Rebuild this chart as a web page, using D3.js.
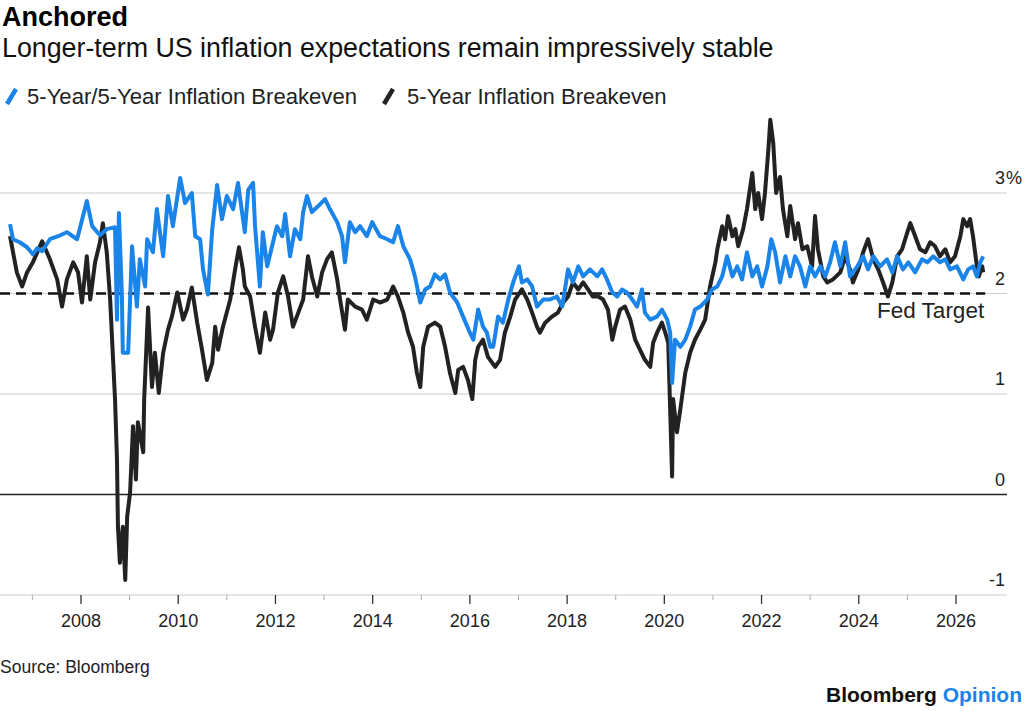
<!DOCTYPE html>
<html><head><meta charset="utf-8">
<script src="https://cdn.jsdelivr.net/npm/d3@7"></script>
<style>
body{margin:0;background:#fff;}
text{font-family:"Liberation Sans",Arial,sans-serif;}
</style></head>
<body><svg id="c" width="1024" height="711"></svg>
<script>
const title = "Anchored";
const subtitle = "Longer-term US inflation expectations remain impressively stable";
const seriesNames = ["5-Year/5-Year Inflation Breakeven", "5-Year Inflation Breakeven"];
const seriesColors = ["#1a84e8", "#222222"];
const yTicks = [-1, 0, 1, 2, 3];
const xTickYears = [2008, 2010, 2012, 2014, 2016, 2018, 2020, 2022, 2024, 2026];
const xMinorYears = [2007, 2009, 2011, 2013, 2015, 2017, 2019, 2021, 2023, 2025];
const fedTarget = 2;

const fiveYFiveYDates = [2006.54,2006.60,2006.74,2006.89,2007.01,2007.10,2007.20,2007.36,2007.53,2007.71,2007.92,2008.12,2008.23,2008.39,2008.53,2008.70,2008.74,2008.78,2008.84,2008.86,2008.97,2009.05,2009.15,2009.21,2009.32,2009.36,2009.48,2009.56,2009.69,2009.79,2009.89,2010.04,2010.14,2010.28,2010.35,2010.45,2010.51,2010.61,2010.70,2010.80,2010.90,2011.00,2011.13,2011.23,2011.37,2011.44,2011.54,2011.58,2011.68,2011.74,2011.83,2011.93,2012.03,2012.14,2012.20,2012.30,2012.40,2012.51,2012.57,2012.65,2012.75,2012.88,2013.02,2013.12,2013.27,2013.37,2013.43,2013.53,2013.64,2013.74,2013.88,2013.99,2014.15,2014.30,2014.42,2014.52,2014.63,2014.77,2014.87,2014.98,2015.08,2015.18,2015.28,2015.39,2015.49,2015.59,2015.74,2015.86,2016.00,2016.07,2016.17,2016.27,2016.35,2016.42,2016.48,2016.58,2016.68,2016.79,2016.89,2017.01,2017.07,2017.18,2017.28,2017.38,2017.51,2017.65,2017.79,2017.90,2018.02,2018.12,2018.23,2018.33,2018.47,2018.62,2018.72,2018.82,2018.93,2019.03,2019.13,2019.23,2019.34,2019.44,2019.54,2019.60,2019.71,2019.85,2019.95,2020.06,2020.12,2020.16,2020.22,2020.33,2020.43,2020.53,2020.63,2020.74,2020.88,2020.98,2021.09,2021.19,2021.29,2021.40,2021.50,2021.60,2021.70,2021.81,2021.91,2022.01,2022.12,2022.20,2022.28,2022.38,2022.49,2022.59,2022.69,2022.79,2022.90,2023.00,2023.10,2023.21,2023.31,2023.41,2023.51,2023.62,2023.72,2023.82,2023.97,2024.09,2024.19,2024.30,2024.44,2024.58,2024.69,2024.79,2024.91,2025.02,2025.16,2025.30,2025.41,2025.53,2025.67,2025.78,2025.88,2026.02,2026.15,2026.25,2026.35,2026.43,2026.50,2026.56];
const fiveYFiveYValues = [2.69,2.54,2.51,2.46,2.39,2.45,2.42,2.54,2.57,2.61,2.54,2.92,2.67,2.58,2.64,2.66,1.74,2.80,2.00,1.41,1.41,2.47,1.87,2.34,2.07,2.54,2.41,2.84,2.37,2.97,2.67,3.15,2.90,3.00,2.57,2.54,2.24,1.99,2.64,3.08,2.74,2.97,2.84,3.10,2.61,3.03,3.10,2.67,2.07,2.61,2.27,2.47,2.67,2.57,2.79,2.37,2.64,2.54,2.81,2.97,2.81,2.87,2.94,2.84,2.71,2.57,2.31,2.71,2.61,2.67,2.57,2.71,2.57,2.54,2.51,2.67,2.47,2.34,2.17,1.91,2.04,2.07,2.19,2.14,2.19,2.01,1.91,1.77,1.61,1.54,1.84,1.67,1.61,1.47,1.47,1.77,1.71,1.94,2.11,2.27,2.11,2.14,2.07,1.87,1.94,1.94,1.97,1.87,2.24,2.11,2.27,2.17,2.24,2.17,2.24,2.14,2.01,1.97,2.04,2.01,1.94,1.87,2.04,1.81,1.74,1.77,1.84,1.74,1.61,1.11,1.54,1.47,1.54,1.67,1.84,1.87,1.94,2.04,2.07,2.17,2.37,2.17,2.27,2.14,2.41,2.17,2.27,2.07,2.27,2.54,2.41,2.11,2.37,2.17,2.37,2.27,2.07,2.27,2.17,2.27,2.17,2.31,2.51,2.27,2.51,2.17,2.27,2.37,2.24,2.37,2.27,2.34,2.21,2.37,2.24,2.31,2.21,2.34,2.31,2.37,2.31,2.34,2.24,2.27,2.14,2.24,2.27,2.17,2.31,2.37];

const fiveYDates = [2006.54,2006.68,2006.79,2006.89,2007.01,2007.20,2007.36,2007.51,2007.61,2007.71,2007.84,2007.94,2008.02,2008.12,2008.19,2008.29,2008.39,2008.45,2008.53,2008.60,2008.66,2008.70,2008.74,2008.76,2008.80,2008.86,2008.91,2008.95,2009.01,2009.07,2009.13,2009.17,2009.28,2009.30,2009.38,2009.46,2009.52,2009.60,2009.69,2009.79,2009.87,2009.98,2010.10,2010.18,2010.28,2010.39,2010.49,2010.59,2010.70,2010.76,2010.82,2010.92,2011.07,2011.17,2011.25,2011.33,2011.37,2011.48,2011.58,2011.68,2011.79,2011.89,2011.95,2012.05,2012.16,2012.26,2012.36,2012.47,2012.57,2012.67,2012.75,2012.86,2012.96,2013.06,2013.16,2013.27,2013.33,2013.43,2013.49,2013.64,2013.78,2013.88,2014.01,2014.15,2014.30,2014.42,2014.52,2014.63,2014.73,2014.83,2014.91,2014.98,2015.04,2015.14,2015.28,2015.39,2015.49,2015.59,2015.70,2015.76,2015.86,2015.96,2016.05,2016.11,2016.17,2016.27,2016.37,2016.52,2016.62,2016.72,2016.83,2016.93,2017.07,2017.18,2017.28,2017.38,2017.44,2017.55,2017.69,2017.81,2017.92,2018.02,2018.12,2018.23,2018.33,2018.43,2018.53,2018.64,2018.74,2018.84,2018.93,2018.99,2019.09,2019.19,2019.30,2019.40,2019.50,2019.60,2019.71,2019.77,2019.85,2019.95,2020.02,2020.08,2020.16,2020.18,2020.26,2020.33,2020.43,2020.53,2020.63,2020.74,2020.84,2020.94,2021.05,2021.09,2021.19,2021.25,2021.31,2021.40,2021.46,2021.52,2021.62,2021.70,2021.81,2021.87,2021.93,2022.01,2022.07,2022.14,2022.18,2022.24,2022.30,2022.38,2022.44,2022.53,2022.59,2022.69,2022.75,2022.84,2022.94,2023.04,2023.10,2023.16,2023.27,2023.35,2023.47,2023.62,2023.72,2023.82,2023.88,2023.99,2024.09,2024.19,2024.30,2024.40,2024.50,2024.60,2024.69,2024.79,2024.89,2025.00,2025.06,2025.16,2025.26,2025.37,2025.47,2025.57,2025.67,2025.78,2025.88,2025.98,2026.09,2026.15,2026.23,2026.29,2026.35,2026.43,2026.47,2026.54,2026.56];
const fiveYValues = [2.57,2.21,2.07,2.21,2.31,2.52,2.34,2.14,1.87,2.14,2.31,2.21,1.91,2.37,1.94,2.31,2.51,2.70,2.41,1.94,1.34,0.95,0.35,-0.32,-0.68,-0.32,-0.85,-0.22,0.02,0.68,0.15,0.72,0.42,0.95,1.86,1.07,1.41,1.01,1.41,1.64,1.77,2.01,1.74,1.84,2.06,1.71,1.44,1.14,1.31,1.67,1.44,1.67,1.94,2.24,2.46,2.24,2.07,1.97,1.67,1.41,1.81,1.54,1.64,2.01,2.17,1.97,1.67,1.81,1.94,2.37,2.17,1.97,2.21,2.34,2.41,2.14,1.94,1.64,1.94,1.87,1.84,1.74,1.94,1.91,1.94,2.07,1.97,1.81,1.61,1.47,1.21,1.07,1.47,1.67,1.71,1.67,1.47,1.21,1.01,1.24,1.27,1.14,0.95,1.34,1.47,1.54,1.37,1.27,1.34,1.61,1.77,1.94,2.04,1.94,1.81,1.67,1.61,1.71,1.77,1.81,1.91,1.97,2.11,2.04,2.11,2.04,1.97,1.97,1.94,1.84,1.54,1.67,1.84,1.87,1.74,1.54,1.44,1.34,1.27,1.51,1.61,1.71,1.61,1.51,0.18,0.95,0.62,0.85,1.21,1.41,1.54,1.64,1.74,2.07,2.31,2.44,2.67,2.54,2.77,2.57,2.64,2.47,2.64,2.84,3.20,2.84,3.00,2.74,3.00,3.43,3.73,3.50,3.00,3.16,2.84,2.57,2.87,2.54,2.70,2.44,2.47,2.27,2.77,2.44,2.17,2.11,2.14,2.21,2.37,2.24,2.11,2.24,2.41,2.54,2.34,2.24,2.11,1.97,2.11,2.37,2.44,2.61,2.70,2.57,2.44,2.41,2.51,2.47,2.37,2.44,2.31,2.37,2.57,2.74,2.67,2.74,2.57,2.27,2.17,2.27,2.21];

const svg = d3.select("#c");
const x = d3.scaleLinear().domain([2008, 2026]).range([81, 956]);
const y = d3.scaleLinear().domain([-1, 3]).range([595, 193]);
const gridRight = 1007;

// Titles
svg.append("text").attr("x", 2).attr("y", 26).attr("font-size", 27).attr("font-weight", "bold").attr("fill", "#000").text(title);
svg.append("text").attr("x", 2).attr("y", 57).attr("font-size", 26.8).attr("fill", "#111").text(subtitle);

// Legend
const leg = [{x: 4, tx: 27}, {x: 381, tx: 407}];
seriesNames.forEach((n, i) => {
  svg.append("line").attr("x1", leg[i].x + 3).attr("y1", 104).attr("x2", leg[i].x + 12).attr("y2", 89)
    .attr("stroke", seriesColors[i]).attr("stroke-width", 4.5).attr("stroke-linecap", "butt");
  svg.append("text").attr("x", leg[i].tx).attr("y", 104).attr("font-size", 22.1).attr("fill", "#222").text(n);
});

// Gridlines
yTicks.forEach(t => {
  svg.append("line").attr("x1", 0).attr("x2", gridRight).attr("y1", y(t)).attr("y2", y(t))
    .attr("stroke", t === 0 ? "#222" : "#cccccc").attr("stroke-width", t === 0 ? 1.3 : 1.2);
  svg.append("text").attr("x", 1005).attr("y", y(t) - 9).attr("text-anchor", "end")
    .attr("font-size", 18).attr("fill", "#222").text(t);
  if (t === 3) {
    svg.append("text").attr("x", 1006).attr("y", y(t) - 9).attr("font-size", 18).attr("fill", "#222").text("%");
  }
});

// X axis ticks
const axisY = y(-1);
xTickYears.forEach(yr => {
  svg.append("line").attr("x1", x(yr)).attr("x2", x(yr)).attr("y1", axisY).attr("y2", axisY + 9).attr("stroke", "#333").attr("stroke-width", 1.3);
  svg.append("text").attr("x", x(yr)).attr("y", axisY + 32).attr("text-anchor", "middle").attr("font-size", 18).attr("fill", "#222").text(yr);
});
xMinorYears.forEach(yr => {
  svg.append("line").attr("x1", x(yr)).attr("x2", x(yr)).attr("y1", axisY).attr("y2", axisY + 5).attr("stroke", "#aaa").attr("stroke-width", 1);
});

// Fed target line
svg.append("line").attr("x1", 0).attr("x2", x(2026.6)).attr("y1", y(fedTarget)).attr("y2", y(fedTarget))
  .attr("stroke", "#111").attr("stroke-width", 2.5).attr("stroke-dasharray", "10,6");
svg.append("text").attr("x", x(2026.6) - 1).attr("y", y(fedTarget) + 24).attr("text-anchor", "end").attr("font-size", 22.5).attr("fill", "#222").text("Fed Target");

// Lines
const line = d3.line().x(d => x(d[0])).y(d => y(d[1])).curve(d3.curveLinear);
const blackData = fiveYDates.map((d, i) => [d, fiveYValues[i]]);
const blueData = fiveYFiveYDates.map((d, i) => [d, fiveYFiveYValues[i]]);
svg.append("path").datum(blackData).attr("d", line).attr("fill", "none").attr("stroke", seriesColors[1]).attr("stroke-width", 4).attr("stroke-linejoin", "round");
svg.append("path").datum(blueData).attr("d", line).attr("fill", "none").attr("stroke", seriesColors[0]).attr("stroke-width", 4).attr("stroke-linejoin", "round");

// Footer
svg.append("text").attr("x", 0).attr("y", 673).attr("font-size", 17.5).attr("fill", "#222").text("Source: Bloomberg");
const brand = svg.append("text").attr("x", 1022).attr("y", 702).attr("text-anchor", "end").attr("font-size", 21).attr("font-weight", "bold");
brand.append("tspan").attr("fill", "#111").text("Bloomberg ");
brand.append("tspan").attr("fill", "#1a84e8").text("Opinion");
</script></body></html>
